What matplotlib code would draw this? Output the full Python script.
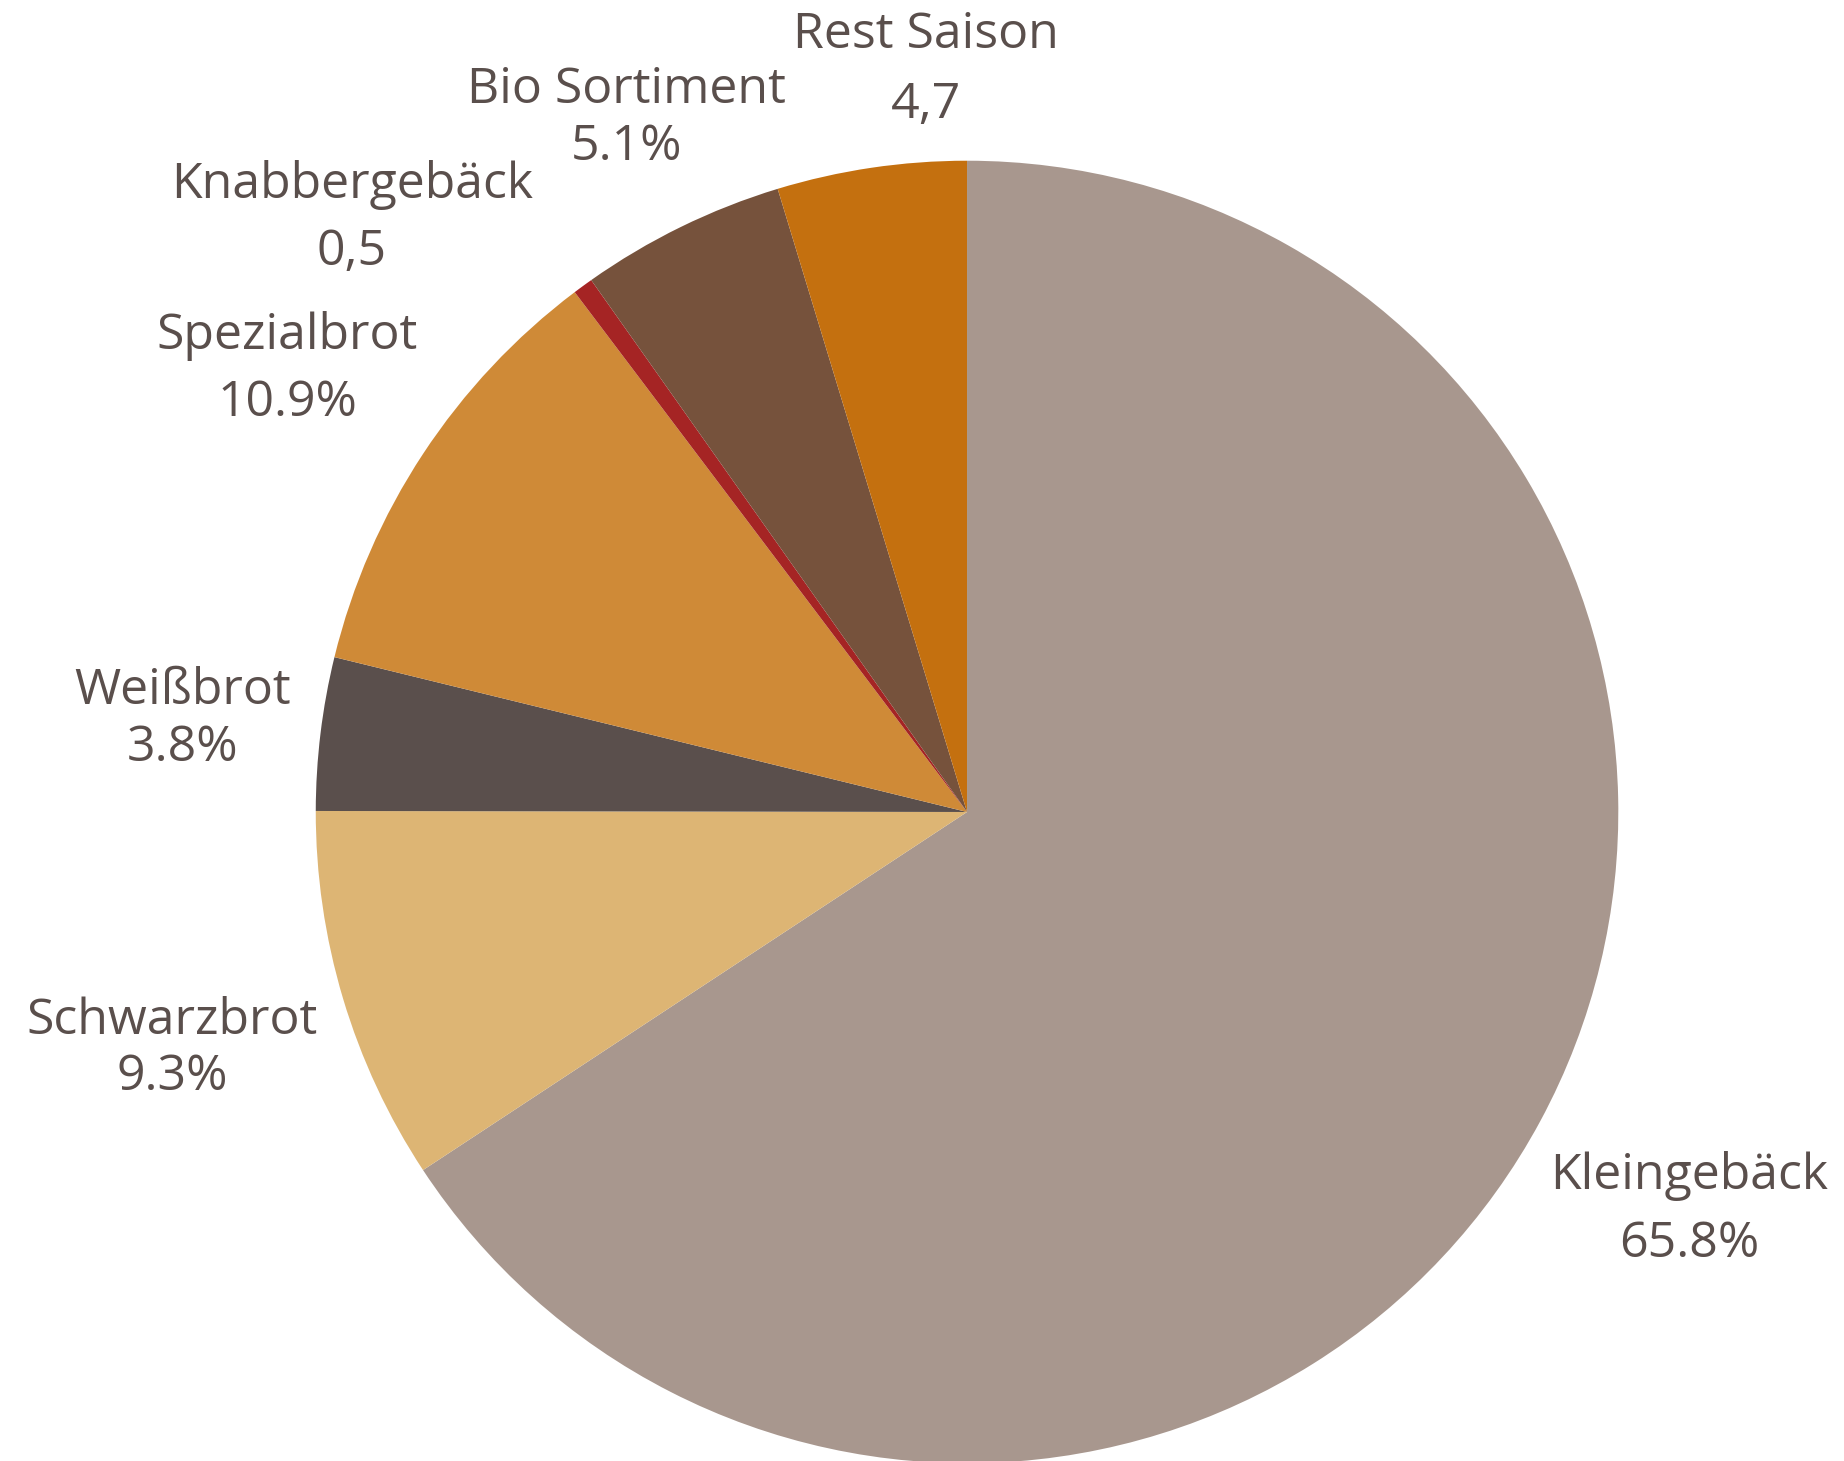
import matplotlib
matplotlib.use("Agg")
import matplotlib.pyplot as plt

plt.rcParams['font.family'] = ['Open Sans', 'DejaVu Sans']

# data, clockwise from 12 o'clock
categories = ["Kleingebäck", "Schwarzbrot", "Weißbrot", "Spezialbrot",
              "Knabbergebäck", "Bio Sortiment", "Rest Saison"]
shares = [65.8, 9.3, 3.8, 10.9, 0.5, 5.1, 4.7]
value_labels = ["65.8%", "9.3%", "3.8%", "10.9%", "0,5", "5.1%", "4,7"]
colors = ["#a8978e", "#ddb574", "#5a4f4c", "#cf8a37", "#a52424", "#76523c", "#c4700f"]

# label placement (pie radius = 1), name line and value line
name_pos = [(1.114, -0.562), (-1.227, -0.323), (-1.210, 0.187), (-1.049, 0.735),
            (-0.949, 0.968), (-0.526, 1.113), (-0.063, 1.199)]
value_y = [-0.667, -0.409, 0.099, 0.631, 0.863, 1.026, 1.090]

text_color = "#5a4f4c"

fig = plt.figure(figsize=(18.44, 14.61), dpi=100)
ax = fig.add_axes([0, 0, 1, 1])
ax.pie(shares, colors=colors, startangle=90, counterclock=False,
       radius=1.005, wedgeprops=dict(linewidth=0))

for name, val, (x, y), vy in zip(categories, value_labels, name_pos, value_y):
    ax.text(x, y, name, ha='center', va='center', fontsize=36, color=text_color)
    ax.text(x, vy, val, ha='center', va='center', fontsize=36, color=text_color)

ax.set_xlim(-1.492, 1.353)
ax.set_ylim(-1.0015, 1.253)
ax.set_aspect('equal')
ax.axis('off')

fig.savefig("out.png", dpi=100, facecolor="white")
